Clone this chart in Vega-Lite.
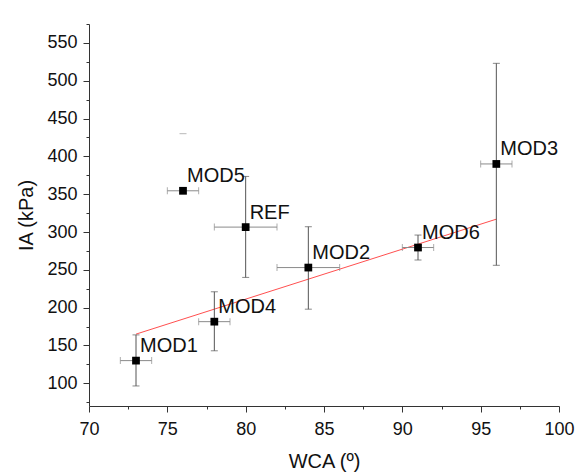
{
  "$schema": "https://vega.github.io/schema/vega-lite/v6.json",
  "width": 470,
  "height": 382,
  "autosize": "none",
  "padding": {"left": 89, "top": 24, "right": 21, "bottom": 70},
  "background": "#ffffff",
  "datasets": {
    "pts": [
      {"name": "MOD1", "wca": 73, "ia": 130, "wlo": 72, "whi": 74, "ilo": 96.5, "ihi": 164, "cap": null},
      {"name": "MOD4", "wca": 78, "ia": 181.5, "wlo": 77, "whi": 79, "ilo": 143, "ihi": 221, "cap": null},
      {"name": "MOD5", "wca": 76, "ia": 354.5, "wlo": 75, "whi": 77, "ilo": null, "ihi": null, "cap": 430},
      {"name": "REF", "wca": 80, "ia": 306.5, "wlo": 78, "whi": 82, "ilo": 240, "ihi": 373.5, "cap": null},
      {"name": "MOD2", "wca": 84, "ia": 253, "wlo": 82, "whi": 86, "ilo": 198, "ihi": 307, "cap": null},
      {"name": "MOD6", "wca": 91, "ia": 279.5, "wlo": 90, "whi": 92, "ilo": 263, "ihi": 296, "cap": null},
      {"name": "MOD3", "wca": 96, "ia": 390, "wlo": 95, "whi": 97, "ilo": 256, "ihi": 523, "cap": null}
    ],
    "fit": [
      {"wca": 73, "ia": 165},
      {"wca": 96, "ia": 317}
    ]
  },
  "layer": [
    {
      "data": {"name": "fit"},
      "mark": {"type": "line", "color": "#ff3b3b", "strokeWidth": 0.9},
      "encoding": {
        "x": {"field": "wca", "type": "quantitative", "title": "WCA (º)",
          "scale": {"domain": [70, 100], "nice": false, "zero": false},
          "axis": {
            "values": [70, 72.5, 75, 77.5, 80, 82.5, 85, 87.5, 90, 92.5, 95, 97.5, 100],
            "tickCount": 200,
            "labelExpr": "datum.value % 5 == 0 ? format(datum.value, 'd') : ''",
            "tickSize": {"condition": {"test": "datum.value % 5 != 0", "value": 3}, "value": 6},
            "labelPadding": 8,
            "titlePadding": 13
          }
        },
        "y": {"field": "ia", "type": "quantitative", "title": "IA (kPa)",
          "scale": {"domain": [70, 575], "nice": false, "zero": false},
          "axis": {
            "values": [75, 100, 125, 150, 175, 200, 225, 250, 275, 300, 325, 350, 375, 400, 425, 450, 475, 500, 525, 550, 575],
            "tickCount": 200,
            "labelExpr": "datum.value % 50 == 0 ? format(datum.value, 'd') : ''",
            "tickSize": {"condition": {"test": "datum.value % 50 != 0", "value": 3}, "value": 6},
            "labelPadding": 6,
            "titlePadding": 10
          }
        }
      }
    },
    {
      "data": {"name": "pts"},
      "mark": {"type": "errorbar", "ticks": {"size": 7}, "color": "#8a8a8a", "thickness": 1},
      "encoding": {
        "x": {"field": "wlo", "type": "quantitative", "title": "WCA (º)", "scale": {"domain": [70, 100], "nice": false, "zero": false}},
        "x2": {"field": "whi"},
        "y": {"field": "ia", "type": "quantitative", "title": "IA (kPa)", "scale": {"domain": [70, 575], "nice": false, "zero": false}}
      }
    },
    {
      "data": {"name": "pts"},
      "transform": [{"filter": "isValid(datum.ilo)"}],
      "mark": {"type": "errorbar", "ticks": {"size": 7}, "color": "#555555", "thickness": 1},
      "encoding": {
        "x": {"field": "wca", "type": "quantitative", "title": "WCA (º)", "scale": {"domain": [70, 100], "nice": false, "zero": false}},
        "y": {"field": "ilo", "type": "quantitative", "title": "IA (kPa)", "scale": {"domain": [70, 575], "nice": false, "zero": false}},
        "y2": {"field": "ihi"}
      }
    },
    {
      "data": {"name": "pts"},
      "transform": [{"filter": "isValid(datum.cap)"}],
      "mark": {"type": "tick", "orient": "horizontal", "size": 7, "thickness": 1, "color": "#9a9a9a"},
      "encoding": {
        "x": {"field": "wca", "type": "quantitative", "title": "WCA (º)", "scale": {"domain": [70, 100], "nice": false, "zero": false}},
        "y": {"field": "cap", "type": "quantitative", "title": "IA (kPa)", "scale": {"domain": [70, 575], "nice": false, "zero": false}}
      }
    },
    {
      "data": {"name": "pts"},
      "mark": {"type": "square", "size": 60, "color": "#000000", "filled": true, "opacity": 1},
      "encoding": {
        "x": {"field": "wca", "type": "quantitative", "title": "WCA (º)", "scale": {"domain": [70, 100], "nice": false, "zero": false}},
        "y": {"field": "ia", "type": "quantitative", "title": "IA (kPa)", "scale": {"domain": [70, 575], "nice": false, "zero": false}}
      }
    },
    {
      "data": {"name": "pts"},
      "mark": {"type": "text", "align": "left", "baseline": "alphabetic", "dx": 4, "dy": -8.5, "font": "Liberation Sans", "fontSize": 20, "color": "#111111"},
      "encoding": {
        "x": {"field": "wca", "type": "quantitative", "title": "WCA (º)", "scale": {"domain": [70, 100], "nice": false, "zero": false}},
        "y": {"field": "ia", "type": "quantitative", "title": "IA (kPa)", "scale": {"domain": [70, 575], "nice": false, "zero": false}},
        "text": {"field": "name"}
      }
    }
  ],
  "config": {
    "view": {"stroke": null},
    "axis": {
      "grid": false,
      "domainColor": "#333333",
      "tickColor": "#333333",
      "labelColor": "#111111",
      "titleColor": "#111111",
      "labelFont": "Liberation Sans",
      "labelFontSize": 18,
      "titleFont": "Liberation Sans",
      "titleFontSize": 20,
      "titleFontWeight": "normal",
      "labelFlush": false,
      "labelOverlap": false
    }
  }
}
